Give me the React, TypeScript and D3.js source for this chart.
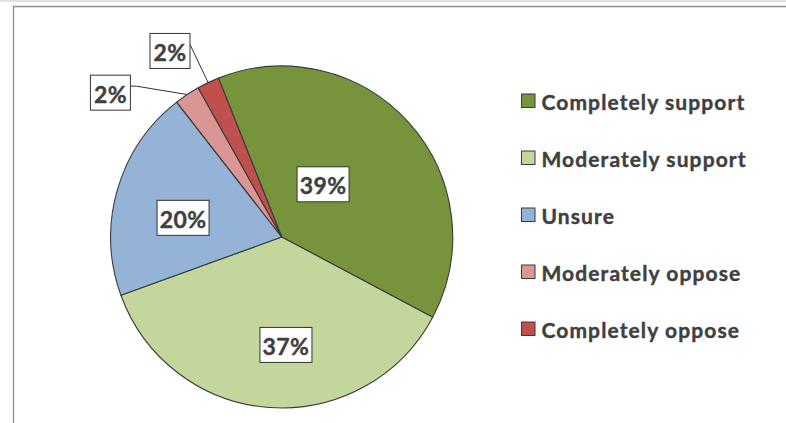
import React from "react";
import * as d3 from "d3";

const categories = ["Completely support", "Moderately support", "Unsure", "Moderately oppose", "Completely oppose"];
const values = [38.8, 36.7, 20.0, 2.4, 2.1];
const labels = ["39%", "37%", "20%", "2%", "2%"];
const colors = ["#77933C", "#C3D69B", "#95B3D7", "#D99694", "#C0504D"];

// layout (not data)
const W = 786, H = 423;
const CX = 281.7, CY = 237, R = 171;
const START_DEG = -21.7;
// label placement: angle shift (deg) from slice mid-angle, and distance from center
const labelPlace = [
  { shift: -10, dist: 67 },
  { shift: -6.3, dist: 108 },
  { shift: -5.1, dist: 100.5 },
  { shift: -16.3, dist: 224 },
  { shift: -5.5, dist: 217 },
];
const leaderElbow = [0, 0, 0, 6, 0];
const BOX_W = 52, BOX_H = 35;
const small = [false, false, false, true, true];

export default function App() {
  const start = (START_DEG * Math.PI) / 180;
  const pie = d3.pie<number>().sort(null).value((d) => d).startAngle(start).endAngle(start + 2 * Math.PI);
  const arcs = pie(values);
  const arcGen = d3.arc<d3.PieArcDatum<number>>().innerRadius(0).outerRadius(R);
  const polar = (ang: number, r: number): [number, number] => [CX + r * Math.sin(ang), CY - r * Math.cos(ang)];

  const legendY = d3.scalePoint<string>().domain(categories).range([101, 329]);

  return (
    <svg width={W} height={H} style={{ position: "absolute", left: 0, top: 0, background: "#fff" }}
      fontFamily="Lato, 'Open Sans', sans-serif">
      <rect x={0} y={0} width={W} height={2} fill="#e2e2e2" />
      <path d={`M13.5,${H} V6.5 H${W}`} fill="none" stroke="#8c8c8c" strokeWidth={1.3} />
      <g>
        {arcs.map((a, i) => (
          <path key={i} d={arcGen(a) || ""} transform={`translate(${CX},${CY})`} fill={colors[i]}
            stroke="#3a3a3a" strokeWidth={1.1} strokeLinejoin="round" />
        ))}
      </g>
      {arcs.map((a, i) => {
        const mid = (a.startAngle + a.endAngle) / 2;
        const p = labelPlace[i];
        const [lx, ly] = polar(mid + (p.shift * Math.PI) / 180, p.dist);
        const bw = small[i] ? 40 : BOX_W;
        const bx = lx - bw / 2, by = ly - BOX_H / 2;
        let leader = null;
        if (small[i]) {
          const [ex, ey] = polar(mid, R);
          const sx = bx + bw, sy = by + 11;
          const pts = leaderElbow[i] > 0 ? [[sx, sy], [sx + leaderElbow[i], sy], [ex, ey]] : [[sx, sy], [ex, ey]];
          leader = <polyline points={pts.map((q) => q.join(",")).join(" ")} fill="none" stroke="#333" strokeWidth={1} />;
        }
        return (
          <g key={i}>
            {leader}
            <rect x={bx} y={by} width={bw} height={BOX_H} fill="#fff" stroke="#333" strokeWidth={1} />
            <text x={lx} y={ly + 1} textAnchor="middle" dominantBaseline="central" fontSize={23} fontWeight={700}
              letterSpacing={0.4} fill="#404040" stroke="#404040" strokeWidth={0.4}>
              {labels[i]}
            </text>
          </g>
        );
      })}
      {categories.map((c, i) => {
        const y = legendY(c) as number;
        return (
          <g key={c}>
            <rect x={521.5} y={y - 7} width={13.5} height={13.5} fill={colors[i]} stroke="#3a3a3a" strokeWidth={1} />
            <text x={541.5} y={y + 0.5} dominantBaseline="central" fontSize={21} fontWeight={700} letterSpacing={1.1}
              fill="#404040" stroke="#404040" strokeWidth={0.4}>
              {c}
            </text>
          </g>
        );
      })}
    </svg>
  );
}
